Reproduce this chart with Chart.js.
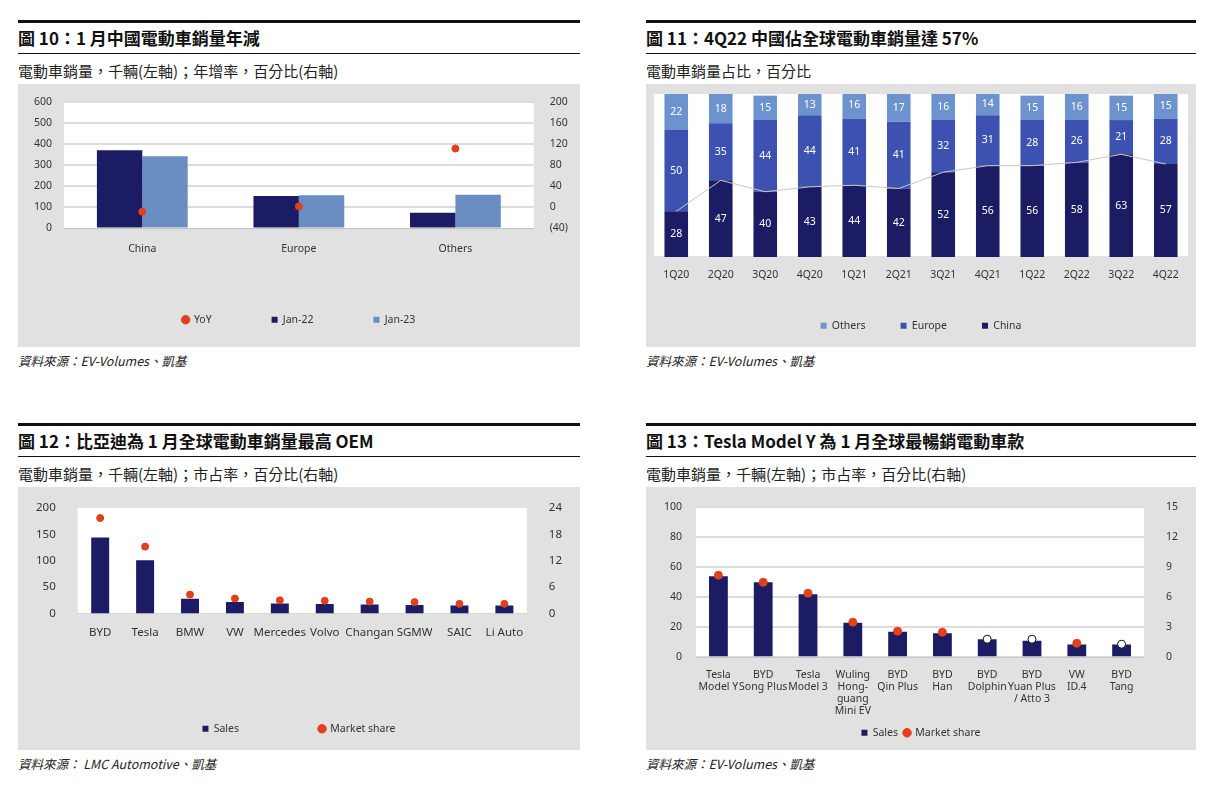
<!DOCTYPE html>
<html><head><meta charset="utf-8">
<script src="https://cdn.jsdelivr.net/npm/chart.js@4"></script>
<style>
body{margin:0;background:#fff;width:1230px;height:791px;position:relative;font-family:"Noto Sans CJK TC","Noto Sans",sans-serif;overflow:hidden}
.p{position:absolute;width:562px}
.t{border-top:3px solid #111;border-bottom:1px solid #111;font-weight:bold;font-size:17px;height:30px;line-height:30px;color:#111}
.s{font-size:15px;color:#222;height:30px;line-height:34px}
.b{background:#e1e1e1;height:263px;position:relative}
.src{font-size:12.5px;font-style:italic;color:#222;margin-top:4px}
canvas{display:block}
</style></head><body>
<div class="p" style="left:18px;top:20px"><div class="t">圖 10：1 月中國電動車銷量年減</div><div class="s">電動車銷量，千輛(左軸)；年增率，百分比(右軸)</div><div class="b"><canvas id="c1" width="562" height="263"></canvas></div><div class="src">資料來源：EV-Volumes、凱基</div></div>
<div class="p" style="left:646px;top:20px;width:550px"><div class="t">圖 11：4Q22 中國佔全球電動車銷量達 57%</div><div class="s">電動車銷量占比，百分比</div><div class="b"><canvas id="c2" width="550" height="263"></canvas></div><div class="src">資料來源：EV-Volumes、凱基</div></div>
<div class="p" style="left:18px;top:423px"><div class="t">圖 12：比亞迪為 1 月全球電動車銷量最高 OEM</div><div class="s">電動車銷量，千輛(左軸)；市占率，百分比(右軸)</div><div class="b"><canvas id="c3" width="562" height="263"></canvas></div><div class="src">資料來源： LMC Automotive、凱基</div></div>
<div class="p" style="left:646px;top:423px;width:550px"><div class="t">圖 13：Tesla Model Y 為 1 月全球最暢銷電動車款</div><div class="s">電動車銷量，千輛(左軸)；市占率，百分比(右軸)</div><div class="b"><canvas id="c4" width="550" height="263"></canvas></div><div class="src">資料來源：EV-Volumes、凱基</div></div>
<script>
// Panel 1
const regions=["China","Europe","Others"];
const jan22=[372,155,75];
const jan23=[343,158,160];
const yoy=[-8,2,112];
// Panel 2
const quarters=["1Q20","2Q20","3Q20","4Q20","1Q21","2Q21","3Q21","4Q21","1Q22","2Q22","3Q22","4Q22"];
const shareChina=[28,47,40,43,44,42,52,56,56,58,63,57];
const shareEurope=[50,35,44,44,41,41,32,31,28,26,21,28];
const shareOthers=[22,18,15,13,16,17,16,14,15,16,15,15];
// Panel 3
const oems=["BYD","Tesla","BMW","VW","Mercedes","Volvo","Changan","SGMW","SAIC","Li Auto"];
const oemSales=[144,101,28,22,19,18,17,16,15,15];
const oemShare=[21.7,15.2,4.3,3.4,3.0,2.9,2.7,2.6,2.2,2.2];
// Panel 4
const models=[["Tesla","Model Y"],["BYD","Song Plus"],["Tesla","Model 3"],["Wuling","Hong-","guang","Mini EV"],["BYD","Qin Plus"],["BYD","Han"],["BYD","Dolphin"],["BYD","Yuan Plus","/ Atto 3"],["VW","ID.4"],["BYD","Tang"]];
const modelSales=[54,50,42,23,17,16,12,11,8.5,8.5];
const modelShare=[8.2,7.5,6.4,3.5,2.6,2.5,1.8,1.8,1.4,1.3];
const hollow=[false,false,false,false,false,false,true,true,false,true];

const NAVY="#1c1c64",LBLUE="#6a8dc2",RED="#e2401c",EURO="#3d52b0",OTH="#6d93cf";
Chart.defaults.font.family='"Noto Sans","Noto Sans CJK TC",sans-serif';
Chart.defaults.font.size=10.5;Chart.defaults.color="#333";
Chart.defaults.animation=false;Chart.defaults.responsive=false;
const whiteBg={id:"wb",beforeDraw(c){const a=c.chartArea,x=c.ctx;x.save();x.fillStyle="#fff";x.fillRect(a.left,a.top,a.right-a.left,a.bottom-a.top);x.restore();}};
const grid={color:"#dcdcdc",lineWidth:2,drawTicks:false};
const leg=(pad)=>({position:"bottom",labels:{usePointStyle:true,boxWidth:6,boxHeight:6,padding:pad,font:{size:10.5}}});
const paren=v=>v<0?"("+(-v)+")":v;
const xt={maxRotation:0,minRotation:0,autoSkip:false};

new Chart(document.getElementById("c1"),{data:{labels:regions,datasets:[
 {type:"bar",label:"Jan-22",data:jan22,backgroundColor:NAVY,pointStyle:"rect",categoryPercentage:0.58,barPercentage:1,order:1},
 {type:"bar",label:"Jan-23",data:jan23,backgroundColor:LBLUE,pointStyle:"rect",categoryPercentage:0.58,barPercentage:1,order:1},
 {type:"scatter",label:"YoY",data:yoy.map((v,i)=>({x:regions[i],y:v})),yAxisID:"y1",backgroundColor:RED,borderColor:RED,pointRadius:3.5,pointStyle:"circle",order:0}]},
 options:{layout:{padding:{top:10,left:4,right:4,bottom:12}},plugins:{legend:leg(60)},
 scales:{x:{type:"category",grid:{display:false},ticks:{...xt,padding:6},afterFit:s=>{s.height=26}},
 y:{min:0,max:600,ticks:{stepSize:100,padding:12},grid:grid,border:{display:false}},
 y1:{position:"right",min:-40,max:200,ticks:{stepSize:40,padding:8,callback:paren},grid:{display:false},border:{display:false}}}},plugins:[whiteBg]});

const cum1=shareChina, cum2=shareChina.map((v,i)=>v+shareEurope[i]);
const labelPlug={id:"lp",afterDatasetsDraw(c){const x=c.ctx;x.save();x.font='10.5px "Noto Sans"';x.textAlign="center";x.textBaseline="middle";
 c.data.datasets.forEach((d,di)=>{if(d.type!=="bar")return;const m=c.getDatasetMeta(di);m.data.forEach((b,i)=>{x.fillStyle="#fff";x.fillText(d.data[i],b.x,(b.y+b.base)/2);});});x.restore();}};
new Chart(document.getElementById("c2"),{data:{labels:quarters,datasets:[
 {type:"line",label:"l1",data:cum1,borderColor:"#c8c8c8",borderWidth:1,pointRadius:0,tension:0,order:0},
 {type:"line",label:"l2",data:cum2,borderColor:"#c8c8c8",borderWidth:1,pointRadius:0,tension:0,order:0},
 {type:"bar",label:"China",data:shareChina,backgroundColor:NAVY,stack:"s",pointStyle:"rect",barPercentage:0.53,categoryPercentage:1,order:1},
 {type:"bar",label:"Europe",data:shareEurope,backgroundColor:EURO,stack:"s",pointStyle:"rect",barPercentage:0.53,categoryPercentage:1,order:1},
 {type:"bar",label:"Others",data:shareOthers,backgroundColor:OTH,stack:"s",pointStyle:"rect",barPercentage:0.53,categoryPercentage:1,order:1}]},
 options:{layout:{padding:{top:10,left:8,right:8,bottom:6}},plugins:{legend:{...leg(35),reverse:true,labels:{...leg(35).labels,filter:l=>l.text.length>2}}},
 scales:{x:{stacked:true,grid:{display:false},ticks:{...xt,padding:4}},y:{stacked:true,min:0,max:100,display:false}}},plugins:[whiteBg,labelPlug]});

new Chart(document.getElementById("c3"),{data:{labels:oems,datasets:[
 {type:"scatter",label:"Market share",data:oemShare.map((v,i)=>({x:oems[i],y:v})),yAxisID:"y1",backgroundColor:RED,borderColor:RED,pointRadius:3.5,order:0},
 {type:"bar",label:"Sales",data:oemSales,backgroundColor:NAVY,pointStyle:"rect",barPercentage:0.4,categoryPercentage:1,order:1}]},
 options:{layout:{padding:{top:12,left:4,right:4,bottom:6}},plugins:{legend:{...leg(80),reverse:true}},
 scales:{x:{type:"category",grid:{display:false},ticks:{...xt,padding:4,font:{size:11.5}},afterFit:s=>{s.height=30}},
 y:{min:0,max:200,ticks:{stepSize:50,padding:14,font:{size:11.5}},grid:{display:false},border:{display:false}},
 y1:{position:"right",min:0,max:24,ticks:{stepSize:6,padding:14,font:{size:11.5}},grid:{display:false},border:{display:false}}}},plugins:[whiteBg]});

new Chart(document.getElementById("c4"),{data:{labels:models,datasets:[
 {type:"scatter",label:"Market share",data:modelShare.map((v,i)=>({x:i,y:v})),xAxisID:"x",yAxisID:"y1",
  backgroundColor:hollow.map(h=>h?"#fff":RED),borderColor:hollow.map(h=>h?"#111":RED),borderWidth:1,pointRadius:4,order:0},
 {type:"bar",label:"Sales",data:modelSales,backgroundColor:NAVY,pointStyle:"rect",barPercentage:0.42,categoryPercentage:1,order:1}]},
 options:{layout:{padding:{top:18,left:4,right:4,bottom:2}},plugins:{legend:{...leg(6),reverse:true,labels:{...leg(6).labels,generateLabels:c=>Chart.defaults.plugins.legend.labels.generateLabels(c).map(l=>{if(l.text==="Market share"){l.fillStyle=RED;l.strokeStyle=RED;}return l;})}}},
 scales:{x:{type:"category",grid:{display:false},ticks:{...xt,padding:4,font:{size:10.5,lineHeight:1.15}}},
 y:{min:0,max:100,ticks:{stepSize:20,padding:14},grid:grid,border:{display:false}},
 y1:{position:"right",min:0,max:15,ticks:{stepSize:3,padding:14},grid:{display:false},border:{display:false}}}},plugins:[whiteBg]});
</script></body></html>
